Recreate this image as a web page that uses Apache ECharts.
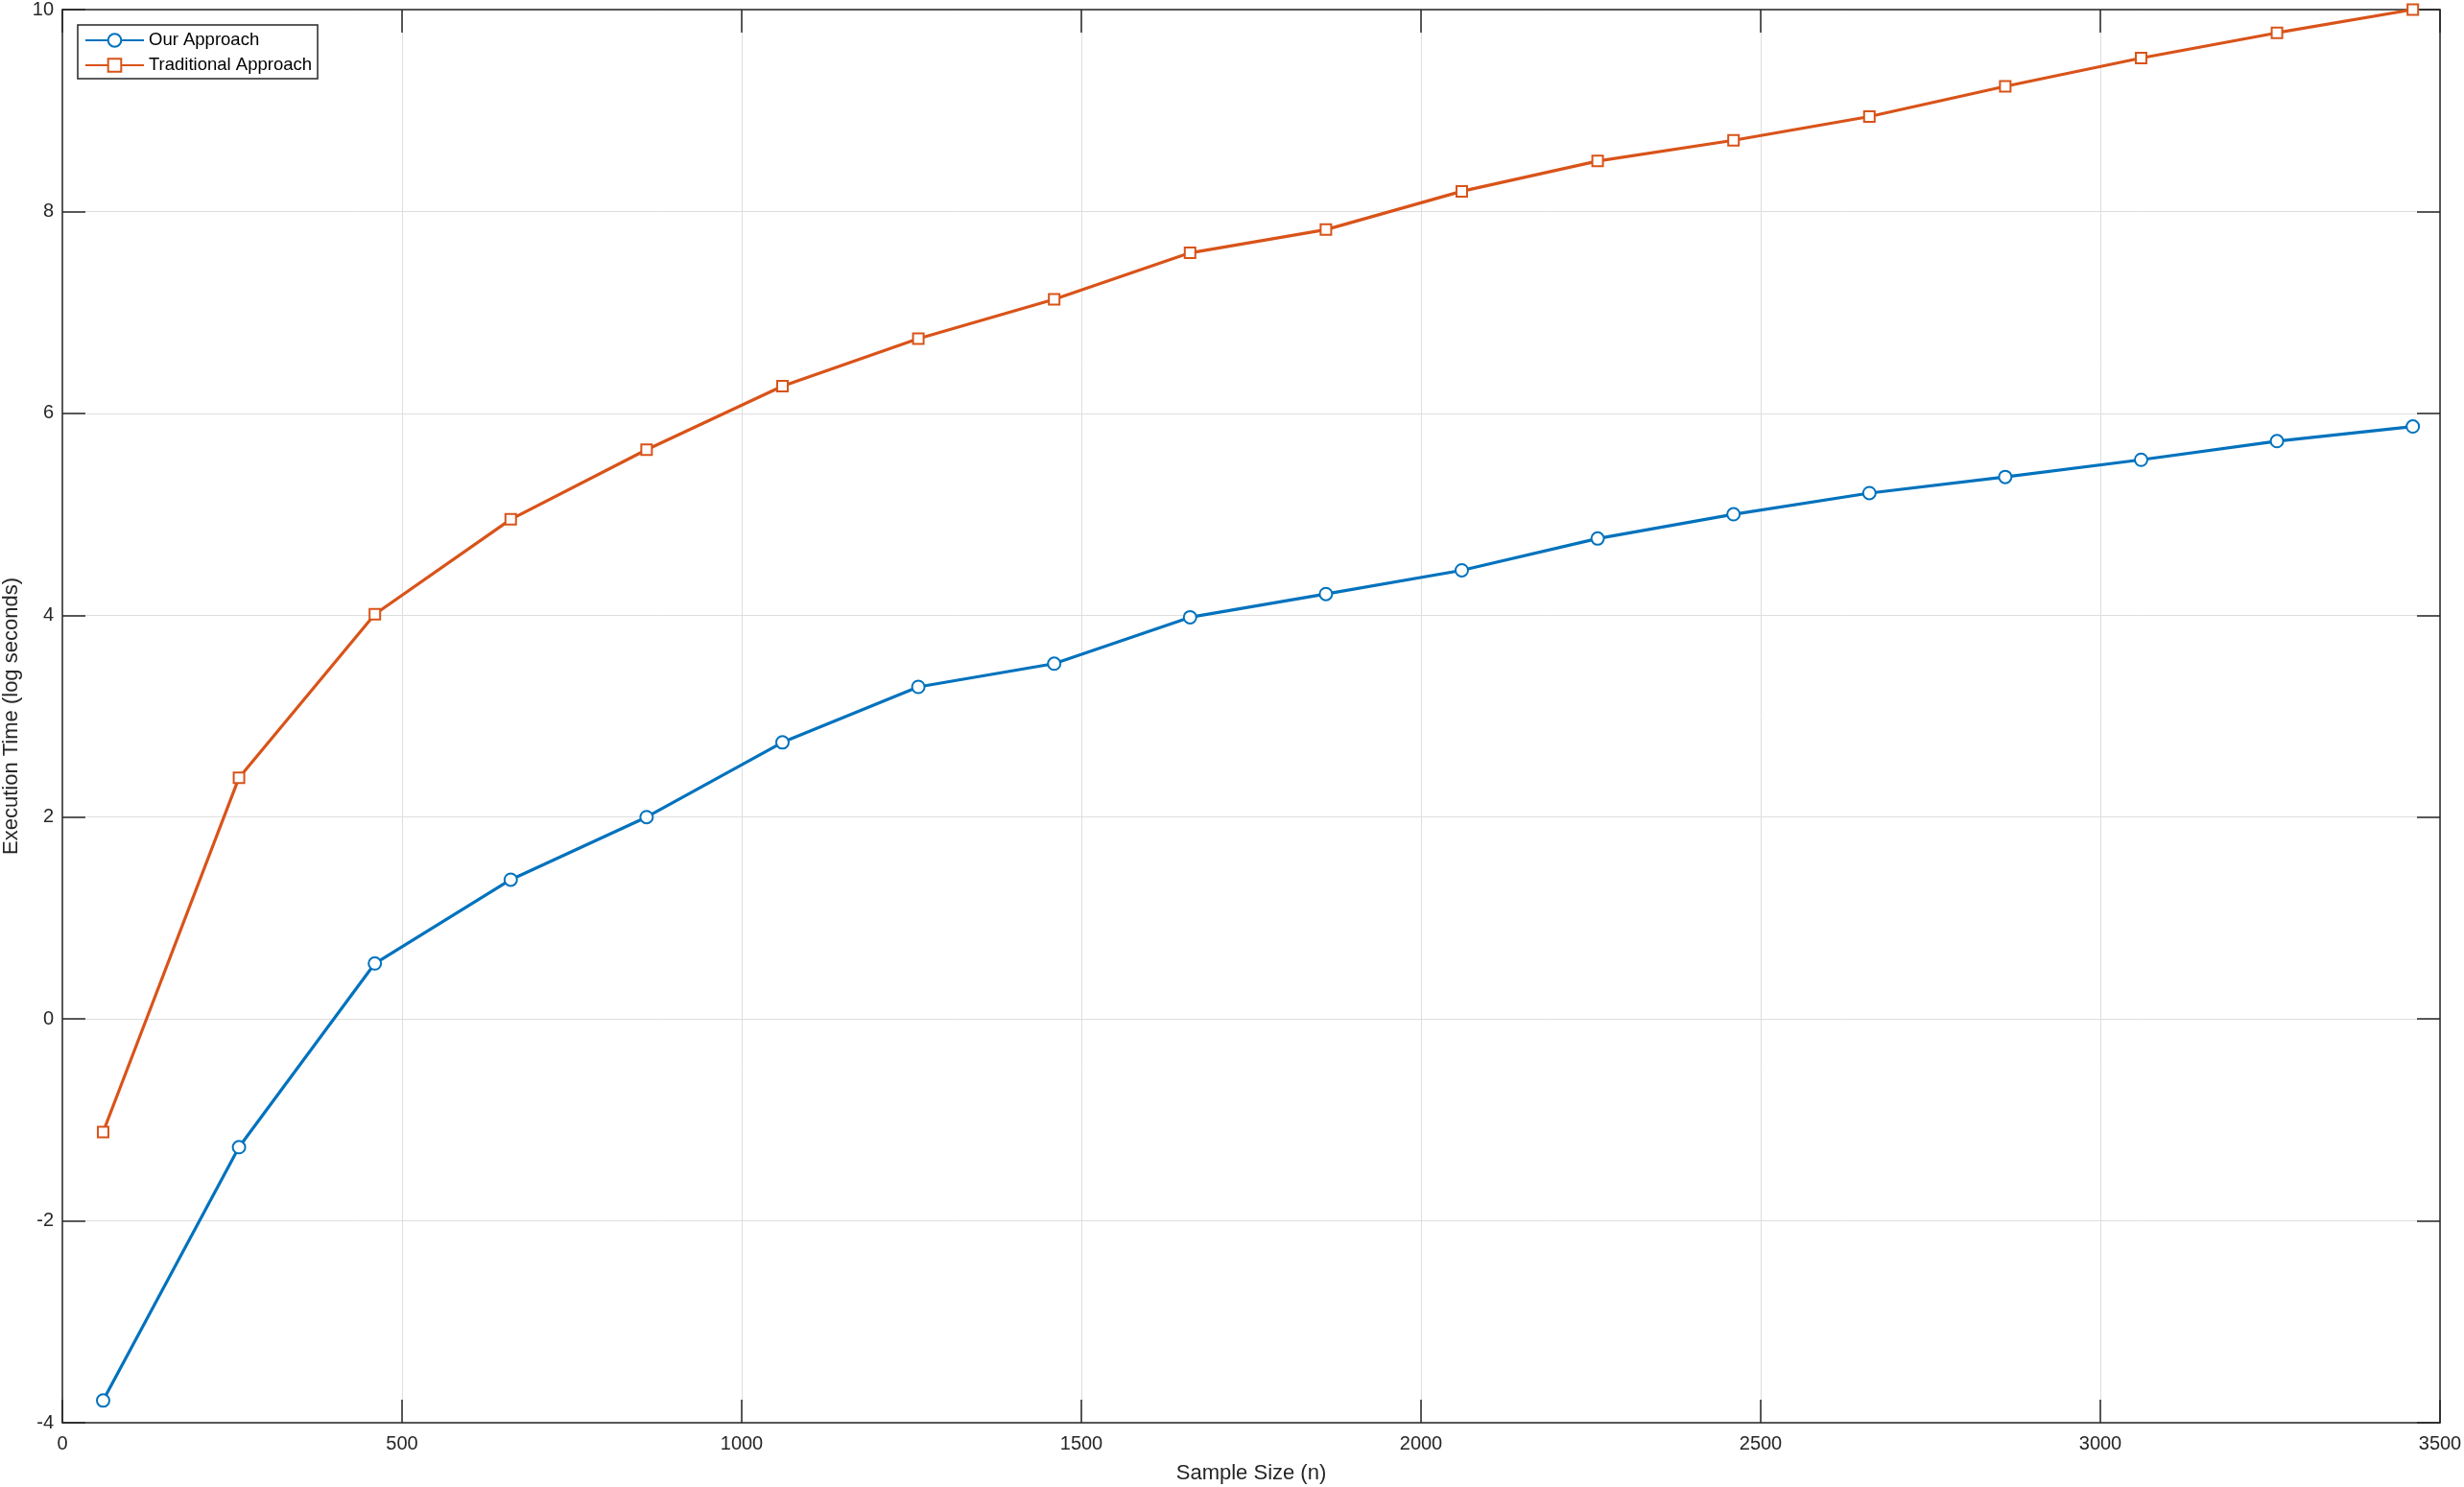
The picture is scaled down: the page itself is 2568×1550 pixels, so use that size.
<!DOCTYPE html>
<html>
<head>
<meta charset="utf-8">
<script src="https://cdn.jsdelivr.net/npm/echarts@6/dist/echarts.min.js"></script>
<style>
html,body{margin:0;padding:0;background:#fff;}
#chart{width:2568px;height:1550px;}
</style>
</head>
<body>
<div id="chart"></div>
<script>
const sampleSizes = [60, 260, 460, 660, 860, 1060, 1260, 1460, 1660, 1860, 2060, 2260, 2460, 2660, 2860, 3060, 3260, 3460];
const ourApproach = [-3.78, -1.27, 0.55, 1.38, 2.0, 2.74, 3.29, 3.52, 3.98, 4.21, 4.445, 4.76, 5.0, 5.21, 5.37, 5.54, 5.725, 5.87];
const traditionalApproach = [-1.12, 2.39, 4.01, 4.95, 5.64, 6.27, 6.74, 7.13, 7.59, 7.82, 8.20, 8.50, 8.705, 8.94, 9.24, 9.52, 9.77, 10.0];
const seriesNames = ['Our Approach', 'Traditional Approach'];
const xAxisTitle = 'Sample Size (n)';
const yAxisTitle = 'Execution Time (log seconds)';

const pairs = (ys) => sampleSizes.map((x, i) => [x, ys[i]]);
const axisColor = '#262626';
const font = 'Liberation Sans, Arial, Helvetica, sans-serif';

const chart = echarts.init(document.getElementById('chart'), null, {renderer: 'canvas'});

const tickCommon = {show: true, inside: true, length: 24, lineStyle: {color: axisColor, width: 1.5}};
const lineCommon = {show: true, onZero: false, lineStyle: {color: axisColor, width: 1.5}};
const gridLine = {show: true, lineStyle: {color: '#dedede', width: 1}};

chart.setOption({
  animation: false,
  backgroundColor: '#ffffff',
  grid: {left: 65, right: 25, top: 10, bottom: 67, containLabel: false, outerBoundsMode: 'none'},
  legend: {
    orient: 'vertical',
    left: 81,
    top: 26,
    data: seriesNames,
    itemWidth: 61,
    itemHeight: 17,
    itemGap: 6,
    padding: [6, 6, 4, 7],
    borderColor: axisColor,
    borderWidth: 1.5,
    backgroundColor: '#ffffff',
    textStyle: {fontFamily: font, fontSize: 18.5, color: '#000000', lineHeight: 20}
  },
  xAxis: [{
    type: 'value', min: 0, max: 3500, interval: 500,
    name: xAxisTitle, nameLocation: 'middle', nameGap: 42,
    nameTextStyle: {fontFamily: font, fontSize: 22, color: axisColor},
    axisLine: lineCommon, axisTick: tickCommon,
    axisLabel: {fontFamily: font, fontSize: 20, color: axisColor, margin: 12, formatter: (v) => String(v)},
    splitLine: gridLine
  }, {
    type: 'value', min: 0, max: 3500, interval: 500, position: 'top',
    axisLine: lineCommon, axisTick: tickCommon,
    axisLabel: {show: false}, splitLine: {show: false}
  }],
  yAxis: [{
    type: 'value', min: -4, max: 10, interval: 2,
    name: yAxisTitle, nameLocation: 'middle', nameGap: 40,
    nameTextStyle: {fontFamily: font, fontSize: 22, color: axisColor},
    axisLine: lineCommon, axisTick: tickCommon,
    axisLabel: {fontFamily: font, fontSize: 20, color: axisColor, margin: 9, formatter: (v) => String(v)},
    splitLine: gridLine
  }, {
    type: 'value', min: -4, max: 10, interval: 2, position: 'right',
    axisLine: lineCommon, axisTick: tickCommon,
    axisLabel: {show: false}, splitLine: {show: false}
  }],
  series: [{
    name: seriesNames[0], type: 'line', data: pairs(ourApproach),
    symbol: 'emptyCircle', symbolSize: 13,
    lineStyle: {color: '#0072BD', width: 3.2},
    itemStyle: {color: '#0072BD', borderColor: '#0072BD', borderWidth: 3},
    z: 3
  }, {
    name: seriesNames[1], type: 'line', data: pairs(traditionalApproach),
    symbol: 'emptyRect', symbolSize: 11,
    lineStyle: {color: '#D95319', width: 3.2},
    itemStyle: {color: '#D95319', borderColor: '#D95319', borderWidth: 3},
    z: 3
  }]
});
</script>
</body>
</html>
